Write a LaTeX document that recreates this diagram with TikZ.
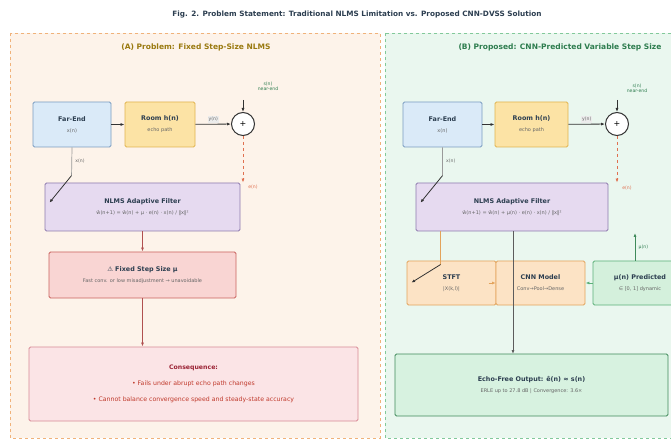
\documentclass[tikz,border=0pt]{standalone}
\usepackage{fontspec}
\setmainfont{DejaVu Sans}
\usetikzlibrary{arrows.meta,calc}
\definecolor{panAfill}{HTML}{FDF3EA}
\definecolor{panAdraw}{HTML}{F0B27A}
\definecolor{panBfill}{HTML}{EAF7EF}
\definecolor{panBdraw}{HTML}{82C99A}
\definecolor{blueF}{HTML}{DAEAF8}
\definecolor{blueD}{HTML}{7A9CC0}
\definecolor{yelF}{HTML}{FCE3A5}
\definecolor{yelD}{HTML}{E1B44F}
\definecolor{purF}{HTML}{E6DAF0}
\definecolor{purD}{HTML}{8E7AAE}
\definecolor{redF}{HTML}{F9D5D3}
\definecolor{redD}{HTML}{C9625E}
\definecolor{pinkF}{HTML}{FBE4E6}
\definecolor{pinkD}{HTML}{D88A95}
\definecolor{oraF}{HTML}{FCE3C5}
\definecolor{oraD}{HTML}{E3A35B}
\definecolor{grnF}{HTML}{D4F0DC}
\definecolor{grnD}{HTML}{5CB079}
\definecolor{outF}{HTML}{D7F2E0}
\definecolor{outD}{HTML}{3F8A5A}
\definecolor{txt}{HTML}{2C3E50}
\definecolor{subtxt}{HTML}{666666}
\definecolor{errC}{HTML}{E07050}
\definecolor{sigC}{HTML}{333333}
\definecolor{xC}{HTML}{9A9A9A}
\definecolor{brC}{HTML}{B05050}
\definecolor{titA}{HTML}{9A7A10}
\definecolor{titB}{HTML}{2E7D4F}
\definecolor{consC}{HTML}{C0392B}
\definecolor{consT}{HTML}{9B2335}
\tikzset{
  blk/.style={draw, rounded corners=1.5pt, line width=0.9pt, align=center, inner sep=1pt},
  sig/.style={-{Latex[length=4pt,width=3pt]}, line width=0.8pt, draw=sigC},
  errsig/.style={-{Latex[length=4pt,width=3pt]}, line width=0.7pt, draw=errC, dashed},
  xsig/.style={line width=0.7pt, draw=xC},
  adapt/.style={-{Latex[length=3.5pt,width=3pt]}, line width=0.8pt, draw=sigC},
  lbl/.style={font=\fontsize{4.6}{5}\selectfont, text=subtxt},
}
\newcommand{\hd}[1]{{\fontsize{6.4}{7.5}\selectfont\bfseries\color{txt}#1}}
\newcommand{\sub}[1]{{\fontsize{5}{6}\selectfont\color{subtxt}#1}}
\begin{document}
\begin{tikzpicture}[x=1pt,y=-1pt]
\useasboundingbox (0,0) rectangle (671,443);
\clip (0,0) rectangle (671,443);
\fill[white] (0,0) rectangle (671,443);
\node[font=\fontsize{7.3}{8}\selectfont\bfseries, text=txt] (title) at (357,15) {Fig. 2. Problem Statement: Traditional NLMS Limitation vs. Proposed CNN-DVSS Solution};
% panels
\draw[fill=panAfill, draw=panAdraw, dashed, line width=0.7pt] (10,33) rectangle (380,438);
\draw[fill=panBfill, draw=panBdraw, dashed, line width=0.7pt] (385,33) rectangle (720,438);
\node[font=\fontsize{7.5}{8}\selectfont\bfseries, text=titA] (tA) at (196,47) {(A) Problem: Fixed Step-Size NLMS};
\node[font=\fontsize{7.5}{8}\selectfont\bfseries, text=titB, anchor=west] (tB) at (455,47) {(B) Proposed: CNN-Predicted Variable Step Size};

% ---------- Panel A ----------
\node[blk, fill=blueF, draw=blueD, minimum width=78pt, minimum height=45pt] (farA) at (72,124.5) {\hd{Far-End}\\[-1pt]\sub{x(n)}};
\node[blk, fill=yelF, draw=yelD, minimum width=70pt, minimum height=45pt] (roomA) at (160,124.5) {\hd{Room h(n)}\\[-1pt]\sub{echo path}};
\node[draw=sigC, fill=white, circle, line width=1pt, minimum size=23pt, inner sep=0pt, font=\fontsize{8}{8}\selectfont] (sumA) at (243,124) {+};
\node[blk, fill=purF, draw=purD, minimum width=195pt, minimum height=48pt] (nlmsA) at (142.5,207) {\hd{NLMS Adaptive Filter}\\[-1pt]\sub{ŵ(n+1) = ŵ(n) + μ · e(n) · x(n) / ‖x‖²}};
\node[blk, fill=redF, draw=redD, minimum width=187pt, minimum height=46pt] (fixA) at (142.5,275) {\hd{⚠ Fixed Step Size μ}\\[-1pt]\sub{Fast conv. or low misadjustment → unavoidable}};
\node[blk, fill=pinkF, draw=pinkD, minimum width=329pt, minimum height=74pt, font=\fontsize{6.2}{7}\selectfont, text=consC] (consA) at (193.5,384) {{\bfseries\color{consT}Consequence:}\\[9pt]• Fails under abrupt echo path changes\\[9pt]• Cannot balance convergence speed and steady-state accuracy};

\coordinate (nA) at (243,100);
\node[font=\fontsize{4.6}{5.4}\selectfont, text=titB, align=center] (snA) at (268,86) {s(n)\\near-end};
\draw[sig] (farA) -- (roomA);
\draw[sig] (roomA) -- node[above, lbl, fill=white!85!gray, inner sep=1pt, yshift=1pt] {y(n)} (sumA);
\draw[sig] (nA) -- (sumA.north);
\draw[errsig] (sumA.south) -- (sumA.south |- nlmsA.north);
\node[font=\fontsize{4.6}{5}\selectfont, text=errC] (eA) at (253,187) {e(n)};
\coordinate (xA) at ($(nlmsA.north west)+(27,-7)$);
\draw[xsig] (farA.south) -- node[right, lbl] {x(n)} (xA);
\draw[adapt] (xA) -- ($(nlmsA.north west)+(5,20)$);
\draw[-{Latex[length=4pt,width=3pt]}, line width=0.8pt, draw=brC] (nlmsA.south) -- (fixA.north);
\draw[-{Latex[length=4pt,width=3pt]}, line width=0.8pt, draw=brC] (fixA.south) -- (fixA.south |- consA.north);

% ---------- Panel B ----------
\node[blk, fill=blueF, draw=blueD, minimum width=79pt, minimum height=45pt] (farB) at (442.5,124.5) {\hd{Far-End}\\[-1pt]\sub{x(n)}};
\node[blk, fill=yelF, draw=yelD, minimum width=73pt, minimum height=45pt] (roomB) at (531.5,124.5) {\hd{Room h(n)}\\[-1pt]\sub{echo path}};
\node[draw=sigC, fill=white, circle, line width=1pt, minimum size=23pt, inner sep=0pt, font=\fontsize{8}{8}\selectfont] (sumB) at (617,124) {+};
\node[blk, fill=purF, draw=purD, minimum width=192pt, minimum height=48pt] (nlmsB) at (512,207) {\hd{NLMS Adaptive Filter}\\[-1pt]\sub{ŵ(n+1) = ŵ(n) + μ(n) · e(n) · x(n) / ‖x‖²}};
\node[blk, fill=oraF, draw=oraD, minimum width=89pt, minimum height=44pt] (stftB) at (451.5,283) {\hd{STFT}\\[-1pt]\sub{|X(k,l)|}};
\node[blk, fill=oraF, draw=oraD, minimum width=89pt, minimum height=44pt] (cnnB) at (540.5,283) {\hd{CNN Model}\\[-1pt]\sub{Conv→Pool→Dense}};
\node[blk, fill=grnF, draw=grnD, minimum width=94pt, minimum height=44pt] (muB) at (640,283) {\hd{μ(n) Predicted}\\[-1pt]\sub{∈ [0, 1] dynamic}};
\node[blk, fill=outF, draw=outD, minimum width=273pt, minimum height=62pt] (outB) at (531.5,385) {\hd{Echo-Free Output: ê(n) ≈ s(n)}\\[-1pt]\sub{ERLE up to 27.8 dB | Convergence: 3.6×}};

\coordinate (nB) at (617,100);
\node[font=\fontsize{4.6}{5.4}\selectfont, text=titB, align=center] (snB) at (637,88) {s(n)\\near-end};
\draw[sig] (farB) -- (roomB);
\draw[sig] (roomB) -- node[above, lbl, fill=white!85!gray, inner sep=1pt, yshift=1pt] {y(n)} (sumB);
\draw[sig] (nB) -- (sumB.north);
\draw[errsig] (sumB.south) -- (sumB.south |- nlmsB.north);
\node[font=\fontsize{4.6}{5}\selectfont, text=errC] (eB) at (627,188) {e(n)};
\coordinate (xB) at ($(nlmsB.north west)+(27,-7)$);
\draw[xsig] (farB.south) -- node[right, lbl] {x(n)} (xB);
\draw[adapt] (xB) -- ($(nlmsB.north west)+(5,20)$);
% NLMS to STFT
\coordinate (sB) at ($(stftB.north west)+(34,4)$);
\draw[line width=0.8pt, draw=oraD] (sB |- nlmsB.south) -- (sB);
\draw[adapt] (sB) -- ($(stftB.north west)+(5,22)$);
\draw[-{Latex[length=3.5pt,width=3pt]}, line width=0.8pt, draw=oraD] ($(cnnB.west)+(-7,0)$) -- (cnnB.west);
\draw[-{Latex[length=4pt,width=3pt]}, line width=0.8pt, draw=grnD] (muB.west) -- (cnnB.east);
\coordinate (muT) at (635,233);
\draw[-{Latex[length=4pt,width=3pt]}, line width=0.8pt, draw=outD] (muT |- muB.north) -- node[right, font=\fontsize{4.6}{5}\selectfont, text=titB] {μ(n)} (muT);
\draw[sig, draw=sigC!80] (513,231) -- (513,354);
\end{tikzpicture}
\end{document}
